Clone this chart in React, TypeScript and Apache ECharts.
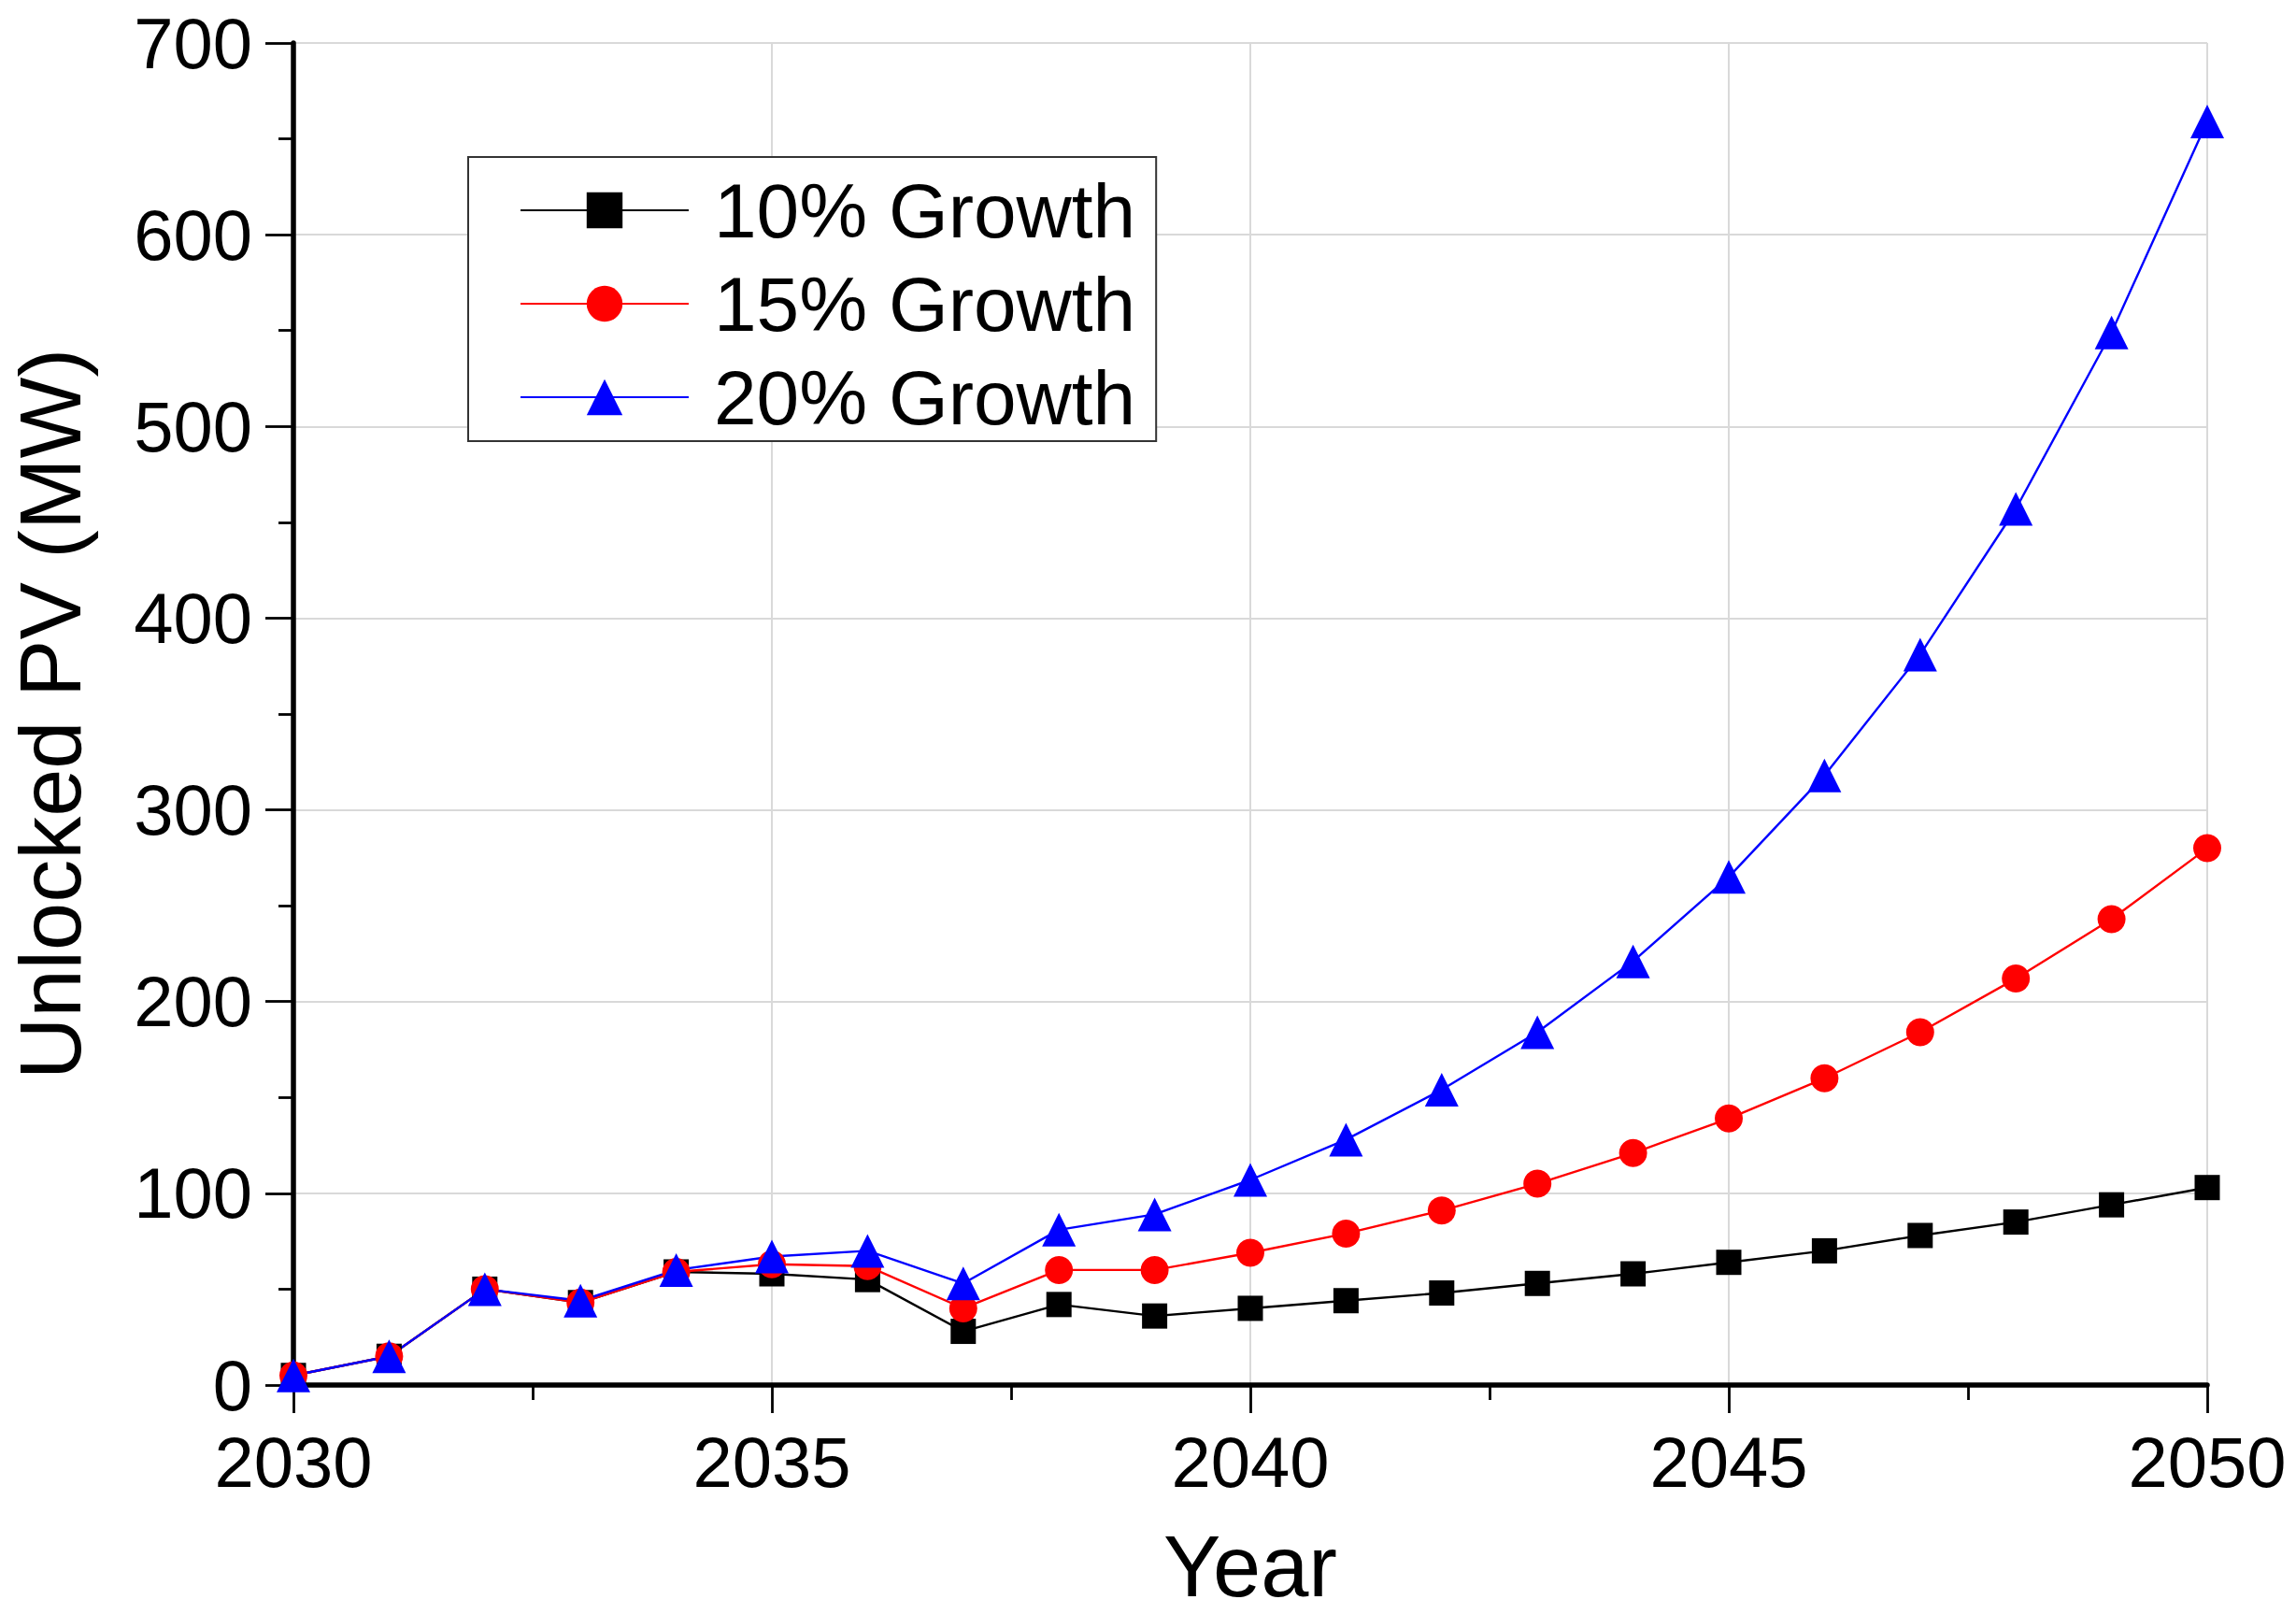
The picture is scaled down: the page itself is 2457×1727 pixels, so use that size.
import React, { useEffect, useRef } from "react";
import * as echarts from "echarts";

const years = [2030, 2031, 2032, 2033, 2034, 2035, 2036, 2037, 2038, 2039, 2040, 2041, 2042, 2043, 2044, 2045, 2046, 2047, 2048, 2049, 2050];
const growth10 = [5, 15, 50, 43, 59, 58, 55, 28, 42, 36, 40, 44, 48, 53, 58, 64, 70, 78, 85, 94, 103];
const growth15 = [5, 15, 50, 43, 59, 63, 62, 40, 60, 60, 69, 79, 91, 105, 121, 139, 160, 184, 212, 243, 280];
const growth20 = [5, 15, 50, 44, 60, 67, 70, 53, 81, 89, 107, 128, 154, 184, 221, 265, 318, 381, 457, 549, 659];
const seriesNames = ["10% Growth", "15% Growth", "20% Growth"];
const yTicks = [0, 700, 100];
const xTicks = [2030, 2050, 5];

const FONT = "'Liberation Sans', Arial, sans-serif";

export default function App() {
  const ref = useRef<HTMLDivElement>(null);
  useEffect(() => {
    if (!ref.current) return;
    const chart = echarts.init(ref.current, null, { renderer: "svg" });
    const pair = (vals: number[]) => years.map((y, i) => [y, vals[i]]);
    const mk = (name: string, vals: number[], color: string, symbol: string, size: number) => ({
      name,
      type: "line",
      data: pair(vals),
      symbol,
      symbolSize: size,
      showAllSymbol: true,
      clip: false,
      lineStyle: { color, width: 2.4 },
      itemStyle: { color, borderWidth: 0 },
      emphasis: { disabled: true },
    });
    chart.setOption({
      animation: false,
      backgroundColor: "#ffffff",
      grid: { left: 313, right: 95, top: 46, bottom: 241, containLabel: false },
      legend: {
        orient: "vertical",
        left: 501,
        top: 168,
        width: 735,
        backgroundColor: "#ffffff",
        borderColor: "#333333",
        borderWidth: 2,
        padding: [16, 22, 6, 55],
        itemWidth: 180,
        itemHeight: 48,
        itemGap: 18,
        selectedMode: false,
        textStyle: {
          fontFamily: FONT,
          fontSize: 82,
          lineHeight: 82,
          color: "#000000",
          padding: [0, 0, 0, 22],
        },
        data: seriesNames,
      },
      xAxis: {
        type: "value",
        min: xTicks[0],
        max: xTicks[1],
        interval: xTicks[2],
        name: "Year",
        nameLocation: "middle",
        nameGap: 148,
        nameTextStyle: { fontFamily: FONT, fontSize: 92, color: "#000000" },
        axisLine: { show: true, onZero: false, lineStyle: { color: "#000000", width: 5.5 } },
        axisTick: { show: true, length: 30, lineStyle: { color: "#000000", width: 2.8 } },
        minorTick: { show: true, splitNumber: 2, length: 16, lineStyle: { color: "#000000", width: 2.8 } },
        axisLabel: {
          fontFamily: FONT,
          fontSize: 76,
          color: "#000000",
          margin: 44,
          formatter: (v: number) => String(v),
        },
        splitLine: { show: true, lineStyle: { color: "#d9d9d9", width: 2 } },
      },
      yAxis: {
        type: "value",
        min: yTicks[0],
        max: yTicks[1],
        interval: yTicks[2],
        name: "Unlocked PV (MW)",
        nameLocation: "middle",
        nameGap: 214,
        nameTextStyle: { fontFamily: FONT, fontSize: 92, color: "#000000" },
        axisLine: { show: true, onZero: false, lineStyle: { color: "#000000", width: 5.5 } },
        axisTick: { show: true, length: 30, lineStyle: { color: "#000000", width: 2.8 } },
        minorTick: { show: true, splitNumber: 2, length: 16, lineStyle: { color: "#000000", width: 2.8 } },
        axisLabel: {
          fontFamily: FONT,
          fontSize: 76,
          color: "#000000",
          margin: 44,
        },
        splitLine: { show: true, lineStyle: { color: "#d9d9d9", width: 2 } },
      },
      series: [
        mk(seriesNames[0], growth10, "#000000", "rect", 27),
        mk(seriesNames[1], growth15, "#ff0000", "circle", 30),
        mk(seriesNames[2], growth20, "#0000ff", "triangle", 36),
      ],
    });
    return () => chart.dispose();
  }, []);
  return (
    <div
      ref={ref}
      style={{ position: "fixed", left: 0, top: 0, width: 2457, height: 1727, background: "#ffffff" }}
    />
  );
}
